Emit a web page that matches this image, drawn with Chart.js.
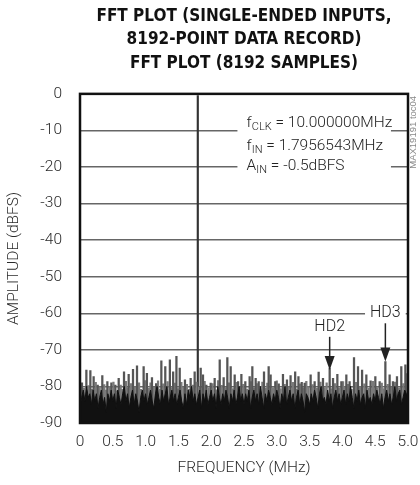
<!DOCTYPE html>
<html>
<head>
<meta charset="utf-8">
<script src="https://cdn.jsdelivr.net/npm/chart.js@4"></script>
<style>
  html, body { margin: 0; padding: 0; background: #fff; }
  #wrap { width: 420px; height: 485px; }
</style>
</head>
<body>
<div id="wrap"><canvas id="fft" width="420" height="485"></canvas></div>
<script>
const FONT = "Roboto, 'Liberation Sans', sans-serif";
const TITLE_FONT = "'DejaVu Sans Condensed', 'DejaVu Sans', sans-serif";

// axis ticks
const xTickLabels = ['0', '0.5', '1.0', '1.5', '2.0', '2.5', '3.0', '3.5', '4.0', '4.5', '5.0'];
const yTickLabels = ['0', '-10', '-20', '-30', '-40', '-50', '-60', '-70', '-80', '-90'];

// fundamental tone
const fundFreq = 1.7956543;
const fundAmp = -0.5;

// noise floor body, one value every 0.025 MHz (rows of 0.5 MHz)
const bodyStep = 0.025;
const bodyAmp = [
  -86, -83, -81, -84, -80, -83, -82, -85, -81, -84, -82, -86, -83, -81, -85, -83, -87, -82, -84, -81,
  -84, -82, -86, -81, -83, -85, -82, -80, -84, -82, -86, -83, -81, -85, -82, -84, -87, -83, -81, -84,
  -82, -85, -83, -81, -84, -86, -82, -80, -83, -85, -81, -84, -82, -80, -85, -83, -81, -84, -82, -85,
  -83, -81, -84, -86, -82, -85, -81, -83, -80, -84, -82, -85, -83, -81, -86, -82, -84, -81, -85, -83,
  -81, -84, -82, -86, -80, -83, -85, -82, -84, -81, -83, -86, -82, -84, -81, -85, -83, -80, -84, -82,
  -85, -82, -84, -81, -86, -83, -81, -84, -82, -85, -80, -83, -86, -82, -84, -81, -83, -85, -82, -84,
  -81, -83, -86, -82, -84, -80, -85, -83, -81, -84, -82, -86, -83, -81, -85, -82, -84, -87, -82, -83,
  -85, -82, -84, -81, -83, -86, -82, -80, -84, -83, -85, -81, -84, -82, -86, -83, -81, -84, -82, -85,
  -83, -81, -85, -82, -84, -80, -83, -86, -82, -84, -81, -85, -83, -82, -86, -81, -84, -83, -85, -82,
  -84, -81, -83, -85, -82, -86, -83, -81, -84, -82, -85, -83, -80, -84, -82, -81, -85, -83, -81, -82,
  -83
];

// taller noise spikes
const spikeFreq = [
  0.03, 0.097, 0.158, 0.208, 0.27, 0.34, 0.417, 0.478, 0.539, 0.59, 0.671, 0.742, 0.808, 0.869,
  0.97, 1.02, 1.097, 1.16, 1.24, 1.30, 1.37, 1.42, 1.47, 1.52, 1.60, 1.687, 1.748, 1.84, 1.875,
  1.926, 1.992, 2.053, 2.13, 2.19, 2.246, 2.297, 2.358, 2.41, 2.46, 2.52, 2.586, 2.627, 2.678,
  2.724, 2.805, 2.876, 2.906, 2.977, 3.03, 3.094, 3.155, 3.21, 3.28, 3.33, 3.38, 3.425, 3.516,
  3.577, 3.638, 3.704, 3.806, 3.857, 3.923, 3.984, 4.06, 4.11, 4.177, 4.238, 4.30, 4.365, 4.43,
  4.502, 4.568, 4.655, 4.72, 4.77, 4.832, 4.898, 4.96
];
const spikeAmp = [
  -79, -75.5, -75.7, -77.3, -79.6, -77, -78.7, -79, -79.6, -77.8, -76, -76.7, -75.3, -74.4,
  -74.6, -76.4, -77.6, -79.2, -73, -74.6, -72.7, -76, -71.8, -75, -78.2, -77.8, -76, -75, -76.8,
  -79.6, -79.1, -77.8, -72.7, -77.6, -72.1, -74.6, -76.8, -78.7, -76.7, -78.7, -77.3, -74.6, -77.8,
  -78.7, -76, -74.6, -76.8, -78.7, -79.3, -76.7, -78.2, -77, -76, -77.3, -78.9, -79.1, -76.8,
  -78.7, -76.1, -77.8, -75, -77.8, -76.7, -78.7, -76.8, -78.7, -72.1, -74.6, -75.5, -76.8, -78.5,
  -77.3, -78.7, -73.2, -76.8, -78.7, -77.3, -74.6, -74.1
];

// smaller spikes between them
const minorFreq = [
  0.06, 0.13, 0.185, 0.24, 0.30, 0.37, 0.395, 0.45, 0.51, 0.565, 0.62, 0.645, 0.70, 0.72, 0.775,
  0.835, 0.90, 0.93, 0.995, 1.05, 1.075, 1.125, 1.19, 1.215, 1.27, 1.335, 1.395, 1.445, 1.495,
  1.545, 1.575, 1.63, 1.66, 1.72, 1.775, 1.815, 1.90, 1.96, 2.02, 2.08, 2.105, 2.16, 2.22, 2.27,
  2.33, 2.385, 2.435, 2.49, 2.55, 2.605, 2.655, 2.70, 2.75, 2.78, 2.835, 2.855, 2.94, 3.00, 3.06,
  3.12, 3.18, 3.245, 3.305, 3.355, 3.40, 3.45, 3.48, 3.545, 3.61, 3.665, 3.73, 3.76, 3.83, 3.885,
  3.95, 4.01, 4.035, 4.085, 4.14, 4.21, 4.27, 4.335, 4.40, 4.465, 4.53, 4.60, 4.625, 4.69, 4.745,
  4.80, 4.865, 4.93, 4.985
];
const minorAmp = [
  -80.5, -79.8, -80.8, -78.9, -80.2, -79.5, -81, -80, -78.8, -81.2, -79.6, -80.8, -78.6, -80.4, -79.2,
  -80.1, -79, -80.8, -78.4, -80.5, -79, -80.2, -78.5, -80.7, -79.3, -78.7, -80.3, -79.1, -80.6,
  -78.9, -80.2, -79.4, -80.8, -79.6, -78.8, -80.1, -78.6, -80.4, -79.2, -80.9, -78.4, -79.7, -80.3, -79,
  -80.6, -78.9, -80.2, -79.4, -80.7, -78.7, -80.4, -79.2, -80.1, -78.8, -80.5, -79.1, -80.3, -78.5, -80.6,
  -79.4, -80.2, -78.9, -80.7, -79.3, -80.4, -78.6, -80.1, -79.5, -80.5, -78.8, -80.3, -79, -80.6, -79.2,
  -80.4, -78.7, -80.2, -79.4, -80.8, -78.9, -80.1, -79.3, -80.5, -78.6, -80.3, -79.1, -80.6, -79.4, -80.2,
  -78.8, -80.4, -79.2, -76.5
];

// harmonic markers
const hdNames = ['HD2', 'HD3'];
const hdFreq = [3.806, 4.655];
const hdAmp = [-75.5, -73.2];

const paramLines = [
  [['f', 0], ['CLK', 1], [' = 10.000000MHz', 0]],
  [['f', 0], ['IN', 1], [' = 1.7956543MHz', 0]],
  [['A', 0], ['IN', 1], [' = -0.5dBFS', 0]]
];

const bodyPoints = bodyAmp.map((v, i) => ({ x: i * bodyStep, y: v }));
const spikePoints = spikeFreq.map((f, i) => ({ x: f, y: [-90, spikeAmp[i]] }));
const minorPoints = minorFreq.map((f, i) => ({ x: f, y: [-90, minorAmp[i]] }));

const overlay = {
  id: 'overlay',
  afterDraw(chart) {
    const ctx = chart.ctx;
    const xs = chart.scales.x, ys = chart.scales.y;
    const a = chart.chartArea;
    ctx.save();

    // parameter box
    const bx0 = xs.getPixelForValue(2.4), bx1 = xs.getPixelForValue(4.74);
    const by0 = ys.getPixelForValue(-5), by1 = ys.getPixelForValue(-22);
    ctx.fillStyle = '#fff';
    ctx.fillRect(bx0, by0, bx1 - bx0, by1 - by0);
    const lineDb = [-7.4, -13.6, -19.1];
    ctx.fillStyle = '#222';
    ctx.textBaseline = 'alphabetic';
    ctx.textAlign = 'left';
    paramLines.forEach((parts, li) => {
      let x = xs.getPixelForValue(2.54);
      const base = ys.getPixelForValue(lineDb[li]) + 6;
      parts.forEach(([t, sub]) => {
        ctx.font = (sub ? '300 11px ' : '300 15.5px ') + FONT;
        ctx.fillText(t, x, base + (sub ? 3 : 0));
        x += ctx.measureText(t).width;
      });
    });

    // HD labels with arrows
    const labelDb = [-63.7, -60];
    ctx.font = '300 16px ' + FONT;
    ctx.textAlign = 'center';
    ctx.textBaseline = 'middle';
    hdNames.forEach((name, i) => {
      const x = xs.getPixelForValue(hdFreq[i]);
      const ly = ys.getPixelForValue(labelDb[i]);
      const tip = ys.getPixelForValue(hdAmp[i]);
      const w = ctx.measureText(name).width;
      ctx.fillStyle = '#fff';
      ctx.fillRect(x - w / 2 - 5, ly - 8, w + 10, 16);
      ctx.fillStyle = '#222';
      ctx.fillText(name, x, ly);
      ctx.strokeStyle = '#222';
      ctx.lineWidth = 1.5;
      ctx.beginPath();
      ctx.moveTo(x, ly + 10);
      ctx.lineTo(x, tip - 10);
      ctx.stroke();
      ctx.beginPath();
      ctx.moveTo(x - 5, tip - 14);
      ctx.lineTo(x + 5, tip - 14);
      ctx.lineTo(x, tip);
      ctx.closePath();
      ctx.fill();
    });

    // frame
    ctx.strokeStyle = '#111';
    ctx.lineWidth = 2.5;
    ctx.strokeRect(a.left, a.top, a.right - a.left, a.bottom - a.top);

    // figure code
    ctx.translate(a.right + 5, a.top + 2);
    ctx.rotate(-Math.PI / 2);
    ctx.font = "9.5px 'Liberation Sans', sans-serif";
    ctx.fillStyle = '#888';
    ctx.textAlign = 'right';
    ctx.textBaseline = 'middle';
    ctx.fillText('MAX19191 toc04', 0, 0);
    ctx.restore();
  }
};

new Chart(document.getElementById('fft'), {
  type: 'line',
  data: {
    datasets: [
      {
        type: 'line',
        data: bodyPoints,
        borderColor: '#111',
        borderWidth: 1,
        backgroundColor: '#111',
        fill: 'start',
        pointRadius: 0,
        tension: 0
      },
      {
        type: 'bar',
        data: spikePoints,
        backgroundColor: '#555',
        barThickness: 1.6,
        grouped: false
      },
      {
        type: 'bar',
        data: minorPoints,
        backgroundColor: '#7a7a7a',
        barThickness: 1.6,
        grouped: false
      },
      {
        type: 'bar',
        data: [{ x: fundFreq, y: [-90, fundAmp] }],
        backgroundColor: '#333',
        barThickness: 1.5,
        grouped: false
      }
    ]
  },
  options: {
    responsive: false,
    animation: false,
    layout: { padding: { left: 0, right: 12, top: 0, bottom: 0 } },
    scales: {
      x: {
        type: 'linear',
        min: 0,
        max: 5,
        offset: false,
        afterFit: (s) => { s.height = 62; s.paddingLeft = 0; s.paddingRight = 0; },
        grid: { display: false, drawTicks: false },
        border: { display: false },
        ticks: {
          stepSize: 0.5,
          padding: 10,
          color: '#2a2a2a',
          font: { family: FONT, size: 15.5, weight: 300 },
          maxRotation: 0,
          autoSkip: false,
          callback: (v, i) => xTickLabels[i]
        },
        title: {
          display: true,
          text: 'FREQUENCY (MHz)',
          color: '#2a2a2a',
          font: { family: FONT, size: 15.5, weight: 300 },
          padding: { top: 0, bottom: 8 }
        }
      },
      y: {
        min: -90,
        max: 0,
        z: 1,
        afterFit: (s) => { s.width = 80; },
        grid: { color: '#666', lineWidth: 1.5, drawTicks: false },
        border: { display: false },
        ticks: {
          stepSize: 10,
          padding: 18,
          color: '#2a2a2a',
          font: { family: FONT, size: 15.5, weight: 300 },
          callback: (v) => yTickLabels[Math.round(-v / 10)]
        },
        title: {
          display: true,
          text: 'AMPLITUDE (dBFS)',
          color: '#2a2a2a',
          font: { family: FONT, size: 15.5, weight: 300 },
          padding: { top: 5, bottom: 0 }
        }
      }
    },
    plugins: {
      legend: { display: false },
      tooltip: { enabled: false },
      title: {
        display: true,
        fullSize: false,
        text: ['FFT PLOT (SINGLE-ENDED INPUTS,', '8192-POINT DATA RECORD)', 'FFT PLOT (8192 SAMPLES)'],
        color: '#111',
        font: { family: TITLE_FONT, size: 17, weight: 'bold', lineHeight: 1.37 },
        padding: { top: 5, bottom: 19 }
      }
    }
  },
  plugins: [overlay]
});
</script>
</body>
</html>
